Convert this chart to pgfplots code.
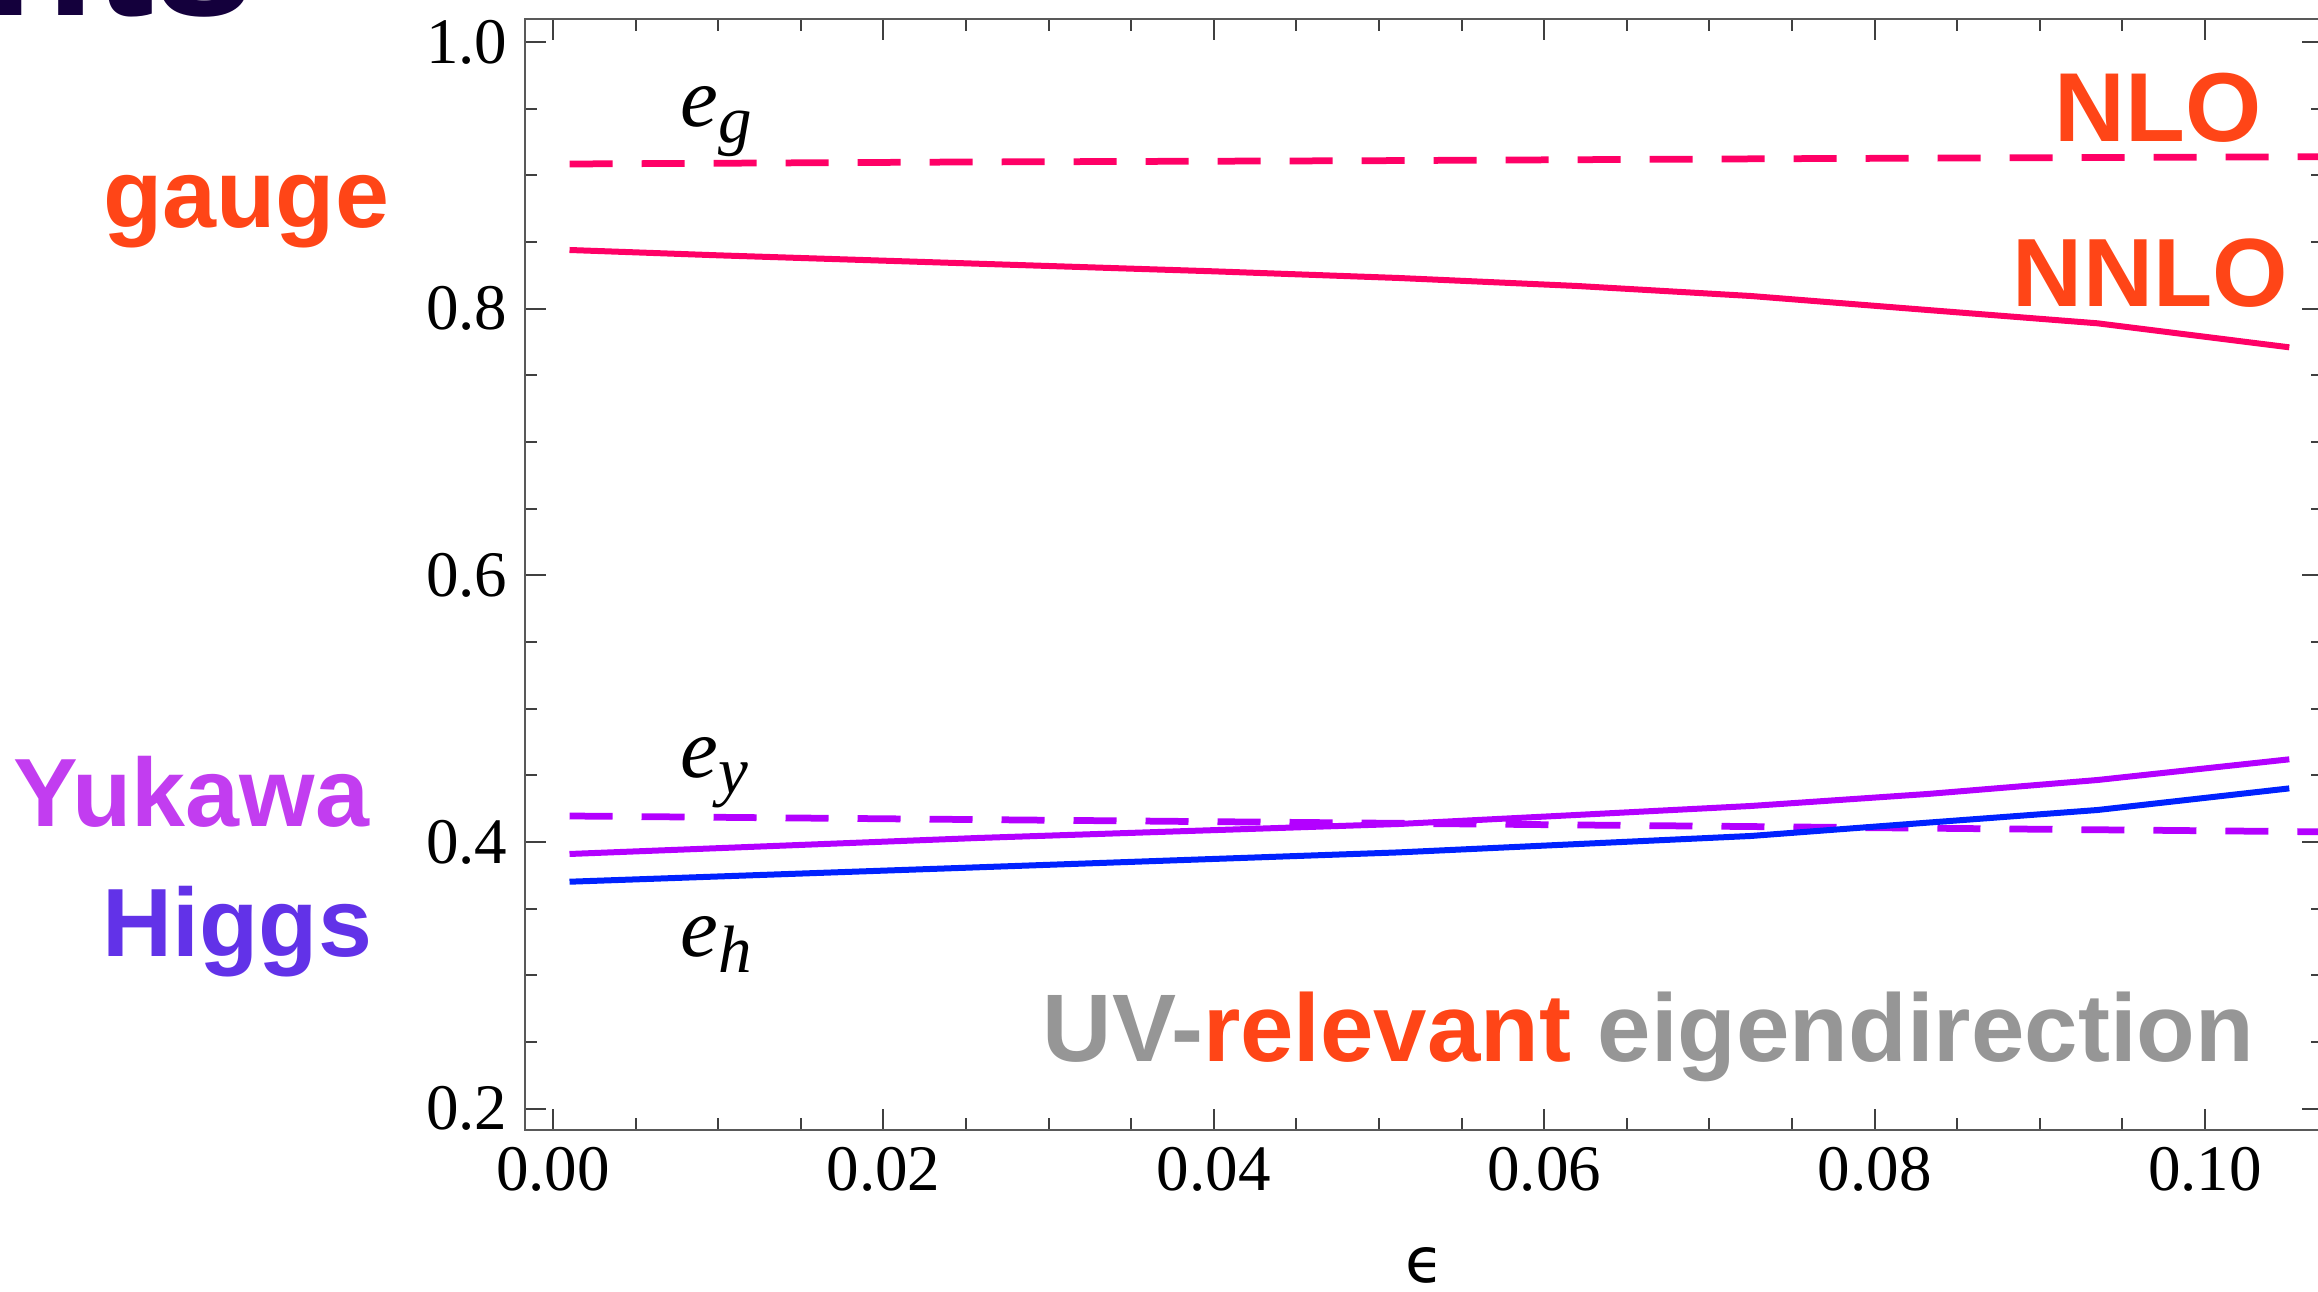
\documentclass[border=0pt]{standalone}
\usepackage{fontspec}
\setmainfont{Liberation Serif}
\newfontfamily\hv{Liberation Sans}
\newfontfamily\djv{DejaVu Sans}
\usepackage{pgfplots}
\pgfplotsset{compat=1.18}
\usepackage{pgfplotstable}

\definecolor{labelred}{HTML}{FF4517}
\definecolor{gaugepink}{HTML}{FF0066}
\definecolor{yukpurple}{HTML}{B300FF}
\definecolor{yuktext}{HTML}{C23DF0}
\definecolor{higgstext}{HTML}{6232E8}
\definecolor{higgsblue}{HTML}{0022FF}
\definecolor{eigengrey}{HTML}{969696}
\definecolor{titlenavy}{HTML}{14003C}

% gauge component of the UV-relevant eigendirection
\pgfplotstableread{
eps   eg
0.001 0.9085
0.025 0.9100
0.050 0.9110
0.075 0.9125
0.108 0.9140
}\gaugeNLO
\pgfplotstableread{
eps    eg
0.001  0.844
0.010  0.840
0.020  0.836
0.030  0.832
0.040  0.828
0.0512 0.823
0.0620 0.817
0.0725 0.8095
0.0832 0.799
0.0935 0.789
0.1051 0.771
}\gaugeNNLO
% Yukawa component
\pgfplotstableread{
eps   ey
0.001 0.4195
0.053 0.4138
0.108 0.4075
}\yukNLO
\pgfplotstableread{
eps    ey
0.001  0.391
0.0257 0.403
0.0512 0.4135
0.0620 0.4203
0.0725 0.427
0.0832 0.436
0.0935 0.4465
0.1051 0.462
}\yukNNLO
% Higgs component
\pgfplotstableread{
eps    eh
0.001  0.3702
0.0257 0.381
0.0512 0.3922
0.0725 0.4045
0.0832 0.4145
0.0935 0.424
0.1051 0.4402
}\higgsNNLO

\tikzset{
  nlo/.style={line width=1.35pt, dash pattern=on 8.6pt off 5.8pt},
  nnlo/.style={line width=1.2pt},
}

\begin{document}
\begin{tikzpicture}
\begin{axis}[
  at={(105pt,-226pt)}, anchor=south west,
  scale only axis, width=359.6pt, height=222.2pt,
  xmin=-0.001695, xmax=0.10714, ymin=0.184, ymax=1.01725,
  xtick={0,0.02,0.04,0.06,0.08,0.10},
  ytick={0.2,0.4,0.6,0.8,1.0},
  minor x tick num=3, minor y tick num=3,
  tick align=inside,
  major tick length=4.2pt, minor tick length=2.4pt,
  axis line style={black!65, line width=0.4pt},
  every tick/.style={black!75, line width=0.4pt},
  scaled x ticks=false, scaled y ticks=false,
  xticklabel style={/pgf/number format/.cd, fixed, fixed zerofill, precision=2},
  yticklabel style={/pgf/number format/.cd, fixed, fixed zerofill, precision=1},
  /pgf/number format/assume math mode=true,
  tick label style={font=\fontsize{13}{14}\selectfont},
  clip=true,
]
\addplot[gaugepink, nlo]  table[x=eps, y=eg] {\gaugeNLO};
\addplot[gaugepink, nnlo] table[x=eps, y=eg] {\gaugeNNLO};
\addplot[yukpurple, nlo]  table[x=eps, y=ey] {\yukNLO};
\addplot[yukpurple, nnlo] table[x=eps, y=ey] {\yukNNLO};
\addplot[higgsblue, nnlo] table[x=eps, y=eh] {\higgsNNLO};
\end{axis}

\begin{scope}[x=0.2pt, y=-0.2pt]
  % component labels on the curves
  \node[anchor=base west, inner sep=0] at (680,127)
    {\fontsize{17}{20}\selectfont\itshape e\raisebox{-3.2pt}{\fontsize{13.4}{15}\selectfont g}};
  \node[anchor=base west, inner sep=0] at (680,778)
    {\fontsize{17}{20}\selectfont\itshape e\raisebox{-3.2pt}{\fontsize{13.4}{15}\selectfont y}};
  \node[anchor=base west, inner sep=0] at (680,957)
    {\fontsize{17}{20}\selectfont\itshape e\raisebox{-3.2pt}{\fontsize{13.4}{15}\selectfont h}};
  % loop orders
  \node[anchor=base west, inner sep=0, text=labelred] at (2054,142)
    {\hv\bfseries\fontsize{19.6}{22}\selectfont NLO};
  \node[anchor=base west, inner sep=0, text=labelred] at (2012,307)
    {\hv\bfseries\fontsize{19.4}{22}\selectfont NNLO};
  \node[anchor=base west, inner sep=0] at (1042,1062)
    {\hv\bfseries\fontsize{19.2}{22}\selectfont\textcolor{eigengrey}{UV-}\textcolor{labelred}{relevant} \textcolor{eigengrey}{eigendirection}};
  % coupling names
  \node[anchor=base east, inner sep=0, text=labelred] at (390,228)
    {\hv\bfseries\fontsize{19.4}{22}\selectfont gauge};
  \node[anchor=base east, inner sep=0, text=yuktext] at (370,827)
    {\hv\bfseries\fontsize{19.4}{22}\selectfont Yukawa};
  \node[anchor=base east, inner sep=0, text=higgstext] at (373,957)
    {\hv\bfseries\fontsize{19.4}{22}\selectfont Higgs};
  % axis label
  \node[anchor=base, inner sep=0] at (1425,1283)
    {\djv\fontsize{12.5}{14}\selectfont ϵ};
  % heading above
  \node[anchor=base east, inner sep=0, text=titlenavy] at (256,16)
    {\hv\bfseries\fontsize{36}{40}\selectfont nts};
\end{scope}

\pgfresetboundingbox
\useasboundingbox (0pt,0pt) rectangle (463.6pt,-258.4pt);
\end{tikzpicture}
\end{document}
